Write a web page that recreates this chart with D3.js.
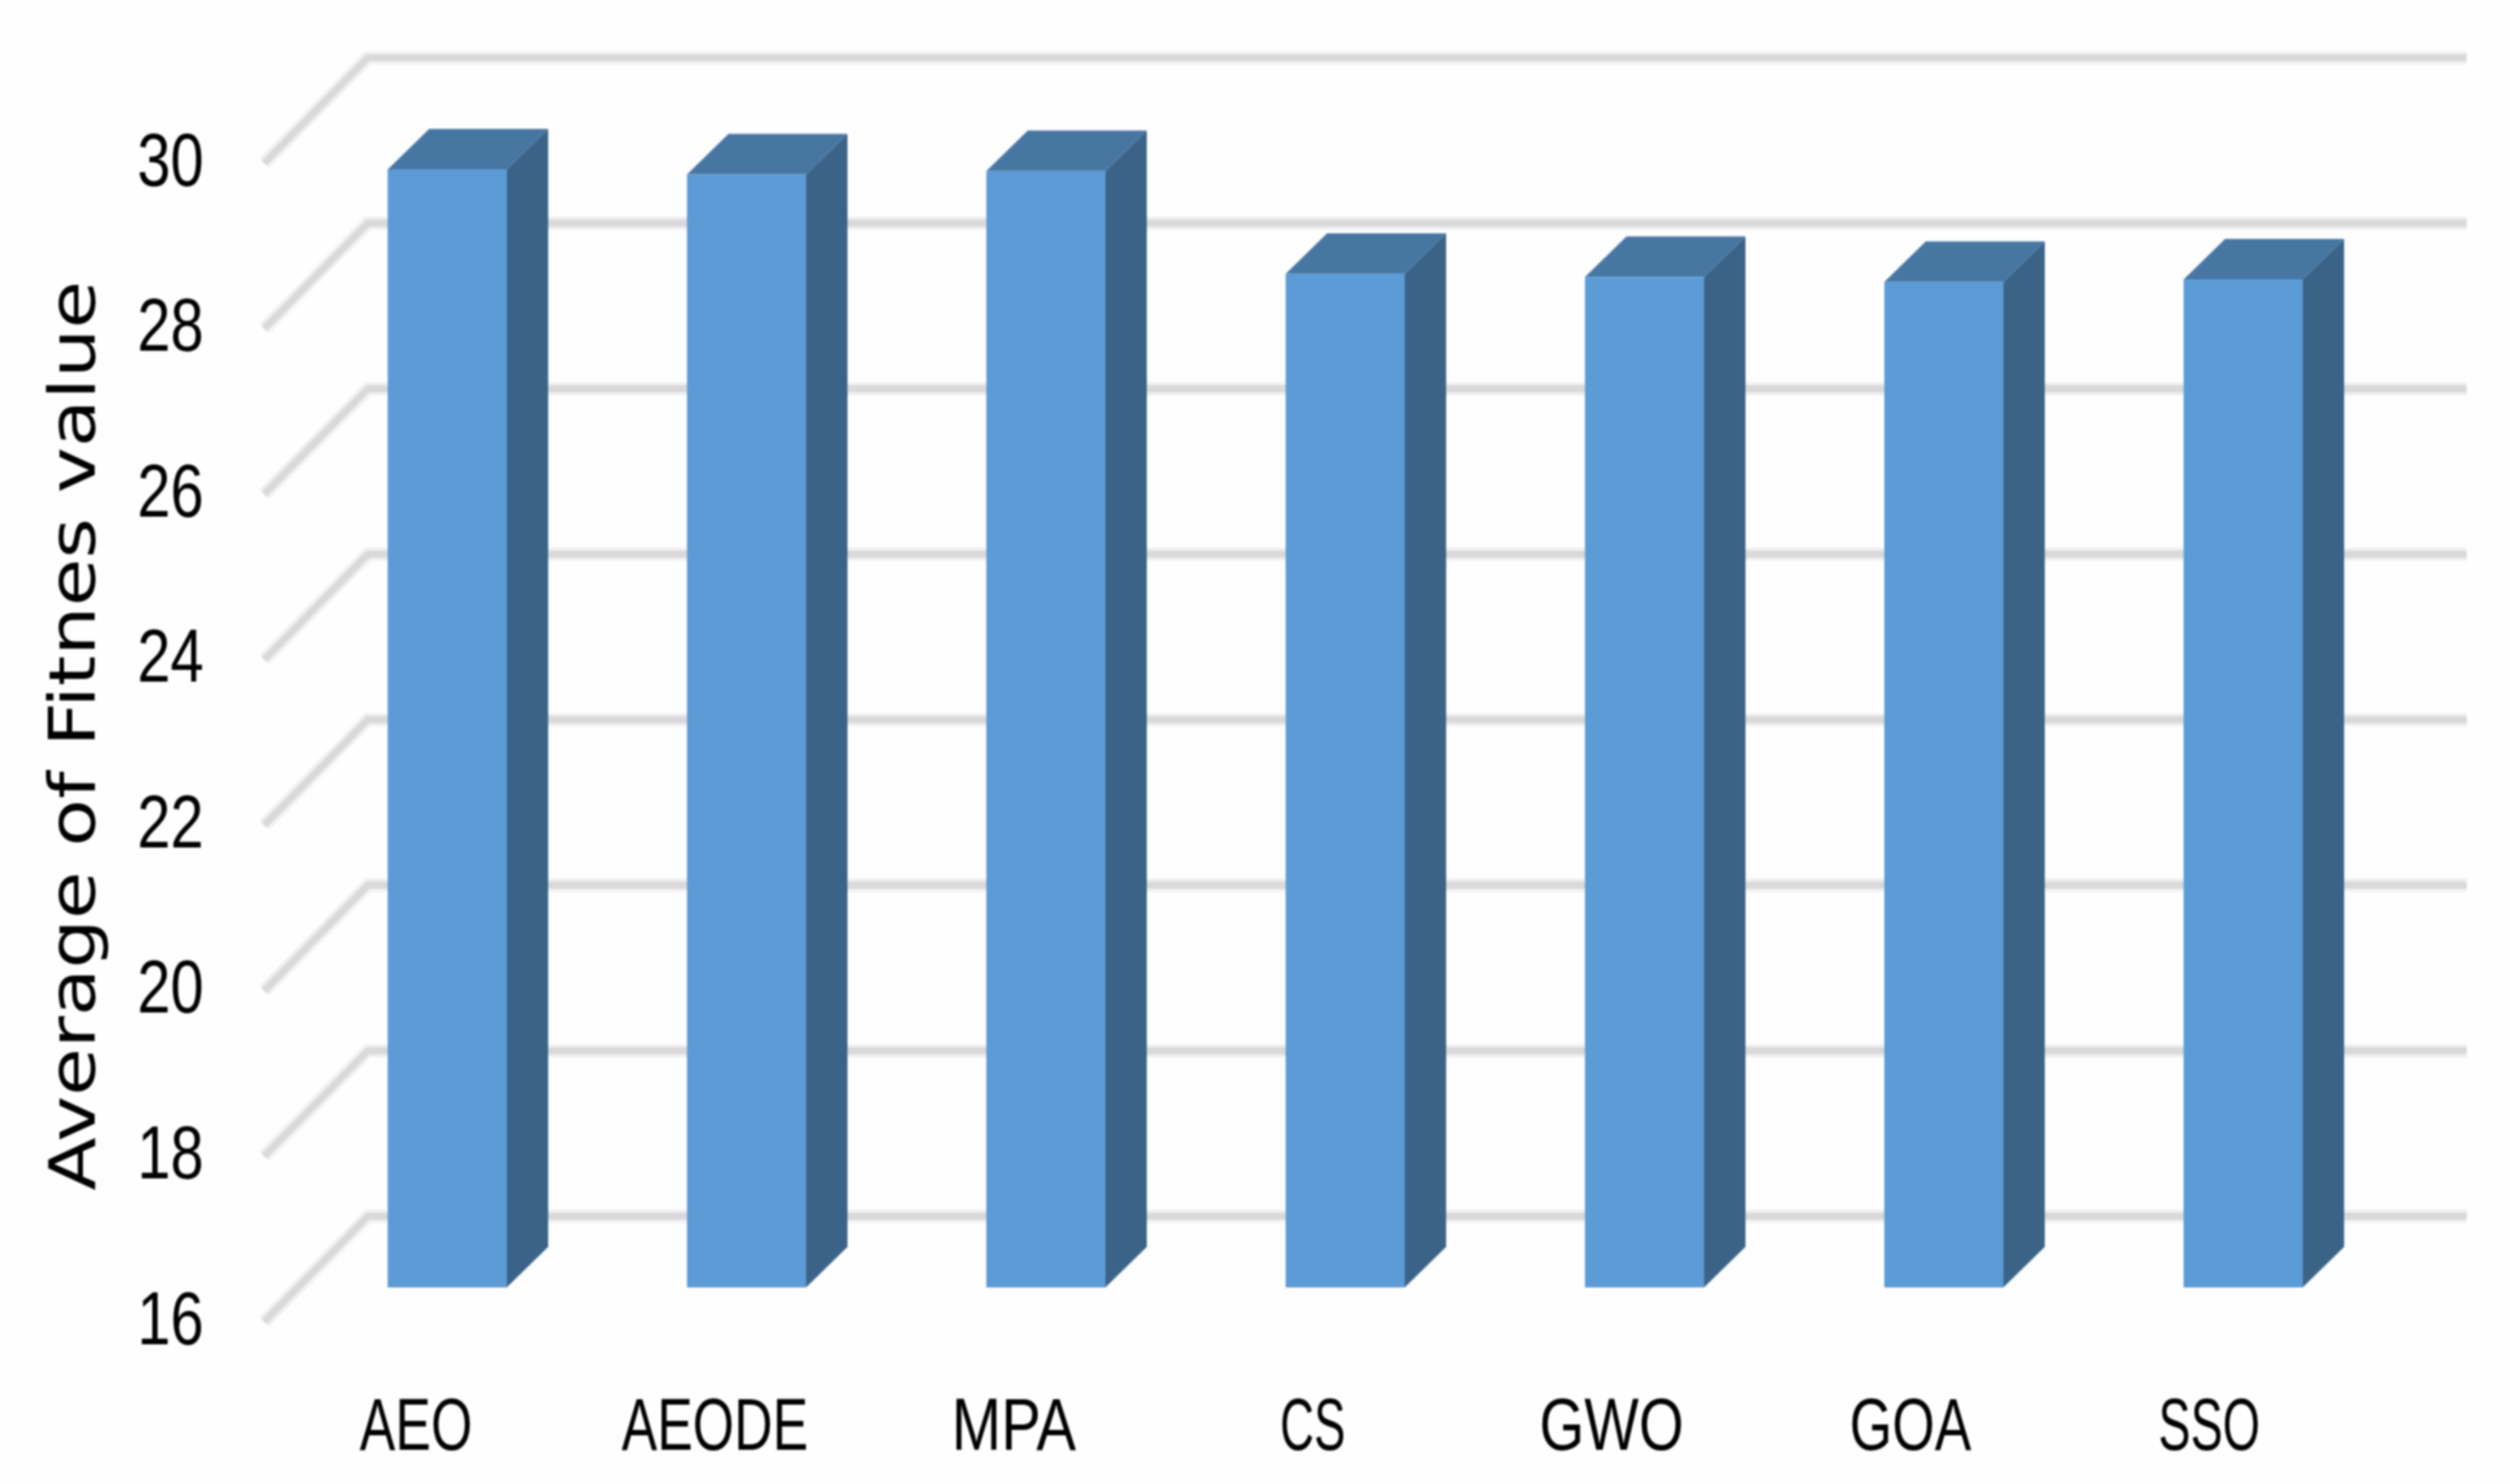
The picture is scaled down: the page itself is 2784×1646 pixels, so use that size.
<!DOCTYPE html>
<html><head><meta charset="utf-8">
<script src="https://cdnjs.cloudflare.com/ajax/libs/d3/7.8.5/d3.min.js"></script>
<style>html,body{margin:0;padding:0;background:#fefefe}svg{display:block}</style>
</head><body><div id="chart"></div>
<script>
const categories = ["AEO","AEODE","MPA","CS","GWO","GOA","SSO"];
const values = [29.51,29.45,29.49,28.25,28.21,28.15,28.18];
const yTicks = [16,18,20,22,24,26,28,30];
const yTitle = "Average of Fitnes value";

const W=2784,H=1646;
const svg=d3.select("#chart").append("svg").attr("width",W).attr("height",H);
svg.append("rect").attr("width",W).attr("height",H).attr("fill","#fefefe");

const frontY=d3.scaleLinear().domain([16,30]).range([1466,181]);
const wallDx=115, wallDy=-117, wallRight=2736, axisX=293;
const barBase=1428, barTopShift=barBase-frontY(16);
const barY=v=>frontY(v)+barTopShift;
const x=d3.scaleBand().domain(categories).range([430,430+332*7]).paddingInner(0).paddingOuter(0);
const barW=132, depth=46, depthY=45;

const defs=svg.append("defs");
defs.append("filter").attr("id","soft").append("feGaussianBlur").attr("stdDeviation",0.9);

// gridlines
const grid=svg.append("g").attr("filter","url(#soft)");
yTicks.forEach(t=>{
  const y0=frontY(t), y1=y0+wallDy, xb=axisX+wallDx;
  grid.append("path").attr("d",`M${axisX},${y0}L${xb},${y1}L${wallRight},${y1}`)
    .attr("fill","none").attr("stroke","#f1f1f1").attr("stroke-width",15);
});
yTicks.forEach(t=>{
  const y0=frontY(t), y1=y0+wallDy, xb=axisX+wallDx;
  grid.append("path").attr("d",`M${axisX},${y0}L${xb},${y1}L${wallRight},${y1}`)
    .attr("fill","none").attr("stroke","#d9d9d9").attr("stroke-width",8);
});

// bars
const bars=svg.append("g").attr("filter","url(#soft)").selectAll("g").data(categories).join("g");
bars.each(function(c,i){
  const g=d3.select(this), l=x(c), r=l+barW, t=barY(values[i]), b=barBase;
  g.append("path").attr("d",`M${l},${t}L${l+depth},${t-depthY}L${r+depth},${t-depthY}L${r},${t}Z`).attr("fill","#4676a3");
  g.append("path").attr("d",`M${r},${t}L${r+depth},${t-depthY}L${r+depth},${b-depthY}L${r},${b}Z`).attr("fill","#3a6488");
  g.append("rect").attr("x",l).attr("y",t).attr("width",barW).attr("height",b-t).attr("fill","#5b9bd5");
});

// y axis
const font="'Liberation Sans',sans-serif";
const yAxis=d3.axisLeft(frontY).tickValues(yTicks).tickSize(0).tickPadding(0);
const gy=svg.append("g").attr("transform","translate(226,0)").call(yAxis).attr("filter","url(#soft)");
gy.select(".domain").remove();
gy.selectAll("text").attr("font-family",font).attr("font-size",83).attr("fill","#000")
  .attr("x",0).attr("dy",0).attr("y",24).attr("text-anchor","end").attr("transform","scale(0.8,1)");

// x axis: horizontal squeeze per label, because the fallback face is wider than the original
const labelSqueeze=[0.73,0.73,0.815,0.645,0.79,0.75,0.66];
const labelX=d3.scalePoint().domain(categories).range([461,2450]);
const xAxis=d3.axisBottom(labelX).tickSize(0).tickPadding(0);
const gx=svg.append("g").attr("transform","translate(0,1608)").call(xAxis).attr("filter","url(#soft)");
gx.select(".domain").remove();
gx.selectAll("text").attr("font-family",font).attr("font-size",81).attr("fill","#000")
  .attr("y",0).attr("dy",0).attr("text-anchor","middle")
  .attr("transform",(d,i)=>`scale(${labelSqueeze[i]},1)`);

// title
svg.append("text").attr("transform","translate(105,816) rotate(-90) scale(1.215,1)").attr("text-anchor","middle")
  .attr("font-family","'DejaVu Sans',sans-serif").attr("font-size",71).attr("fill","#000").attr("filter","url(#soft)").text(yTitle);
</script></body></html>
